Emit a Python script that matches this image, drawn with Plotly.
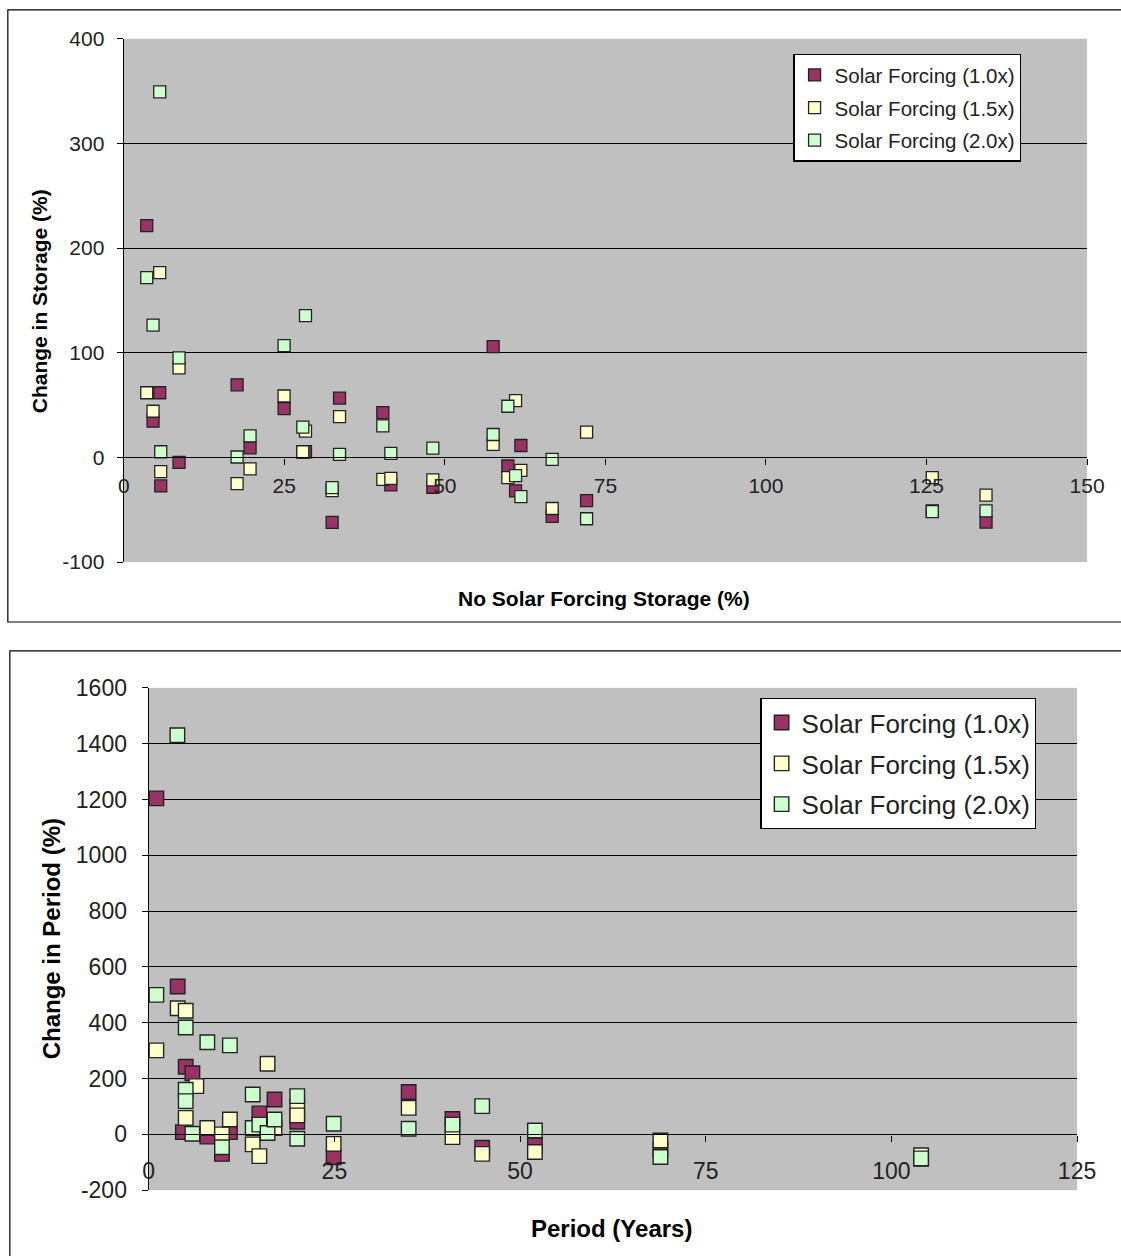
import plotly.graph_objects as go

# ---------------- data: top chart (storage) ----------------
storage_x = [3.58, 4.56, 5.6, 5.76, 8.61, 17.65, 19.67, 24.97, 27.88, 28.30, 32.45, 33.60,
             40.34, 41.59, 48.13, 57.52, 59.81, 61.01, 61.84, 66.71, 72.07, 125.9, 134.27]
storage_sf10 = [221.5, 34.6, 61.8, -27.2, -4.8, 69.4, 9.2, 46.6, 5.0, 5.4, -62.1, 56.7,
                42.8, -26.2, -28.5, 105.9, -8.2, -31.9, 11.4, -56.4, -41.2, -51.0, -61.8]
storage_sf15 = [61.8, 44.1, 176.5, -13.6, 85.6, -25.0, -11.0, 58.7, 5.4, 25.1, -31.7, 39.0,
                -20.9, -20.0, -21.5, 12.4, -19.3, 54.2, -12.4, -48.8, 24.1, -19.3, -36.1]
storage_sf20 = [171.8, 126.4, 349.2, 5.4, 95.1, 0.4, 20.6, 106.8, 28.9, 135.4, -28.8, 2.9,
                30.1, 3.8, 8.9, 21.9, 48.9, -17.4, -37.4, -1.9, -58.6, -51.9, -51.0]

# ---------------- data: bottom chart (period) ----------------
period_x_sf10 = [1.03, 3.9, 4.98, 5.88, 4.6, 7.89, 9.86, 10.93, 14.9, 16.94, 20.0, 24.9,
                 35.0, 40.9, 44.9, 52.0, 68.9, 104.0]
period_sf10 = [1204, 530, 242, 219, 8, -8, -70, 8, 75, 125, 45, -82,
               152, 55, -48, -38, -55, -88]
period_x_sf15 = [1.03, 3.9, 4.98, 6.41, 4.98, 7.89, 9.86, 10.93, 16.0, 14.0, 14.9, 16.94,
                 20.0, 20.0, 24.9, 35.0, 40.9, 44.9, 52.0, 68.9, 104.0]
period_sf15 = [301, 452, 443, 173, 59, 23, 0, 53, 253, -36, -78, 23,
               100, 68, -34, 95, -10, -70, -63, -22, -75]
period_x_sf20 = [1.03, 3.86, 4.98, 4.98, 4.98, 5.88, 7.89, 10.93, 9.86, 14.0, 14.0, 14.9,
                 16.0, 16.94, 20.0, 20.0, 24.9, 35.0, 40.9, 44.9, 52.0, 68.9, 104.0]
period_sf20 = [500, 1430, 383, 160, 119, 2, 330, 319, -46, 143, 23, 35,
               5, 53, 137, -16, 38, 20, 35, 101, 14, -81, -86]

series_names = ["Solar Forcing (1.0x)", "Solar Forcing (1.5x)", "Solar Forcing (2.0x)"]
series_colors = ["#993366", "#FFFFCC", "#CCFFCC"]

top_xticks = [0, 25, 50, 75, 100, 125, 150]
top_xticktext = ["0", "25", "50", "75", "100", "125", "150"]
top_yticks = [-100, 0, 100, 200, 300, 400]
top_yticktext = ["-100", "0", "100", "200", "300", "400"]
bot_xticks = [0, 25, 50, 75, 100, 125]
bot_xticktext = ["0", "25", "50", "75", "100", "125"]
bot_yticks = [-200, 0, 200, 400, 600, 800, 1000, 1200, 1400, 1600]
bot_yticktext = ["-200", "0", "200", "400", "600", "800", "1000", "1200", "1400", "1600"]

W, H = 1121, 1256
FONT = "Liberation Sans, Arial, sans-serif"

# the photographed page is slightly scaled/offset; compensate so targets land right
SX, OX = 0.9784, 6.17
SY, OY = 0.9807, 11.15


def px_x(p):
    return ((p - OX) / SX) / W


def px_y(p):
    return 1 - ((p - OY) / SY) / H


fig = go.Figure()

top_series = [storage_sf10, storage_sf15, storage_sf20]
for i in range(3):
    fig.add_trace(go.Scatter(
        x=storage_x, y=top_series[i], mode="markers", name=series_names[i],
        marker=dict(symbol="square", size=12, color=series_colors[i],
                    line=dict(color="#222222", width=1.3)),
        xaxis="x", yaxis="y", legend="legend", legendgroup="t%d" % i,
    ))

bot_x = [period_x_sf10, period_x_sf15, period_x_sf20]
bot_y = [period_sf10, period_sf15, period_sf20]
for i in range(3):
    fig.add_trace(go.Scatter(
        x=bot_x[i], y=bot_y[i], mode="markers", name=series_names[i],
        marker=dict(symbol="square", size=14.5, color=series_colors[i],
                    line=dict(color="#222222", width=1.4)),
        xaxis="x2", yaxis="y2", legend="legend2", legendgroup="b%d" % i,
    ))

# zero-line positions (target image pixels)
top_y0_px = 37 + (561 - 37) * 400 / 500
bot_y0_px = 687 + (1190 - 687) * 1600 / 1800

axis_common = dict(showline=True, linecolor="black", linewidth=1.3, ticks="outside",
                   tickcolor="black", tickwidth=1.3, ticklen=6)

fig.update_layout(
    autosize=True, margin=dict(l=0, r=0, t=0, b=0),
    paper_bgcolor="white", plot_bgcolor="#C0C0C0",
    font=dict(family=FONT, color="black"),
    showlegend=True,
    xaxis=dict(domain=[px_x(124), px_x(1088)], range=[0, 150], anchor="free",
               position=px_y(top_y0_px), tickvals=top_xticks, ticktext=top_xticktext,
               showgrid=False, zeroline=False, tickfont=dict(size=21, color="#222"),
               ticklabelstandoff=3, **axis_common),
    yaxis=dict(domain=[px_y(561), px_y(37)], range=[-100, 400], anchor="x",
               tickvals=top_yticks, ticktext=top_yticktext, showgrid=True,
               gridcolor="black", gridwidth=1.3, zeroline=False,
               tickfont=dict(size=21, color="#222"), ticklabelstandoff=8, **axis_common),
    xaxis2=dict(domain=[px_x(149), px_x(1078)], range=[0, 125], anchor="free",
                position=px_y(bot_y0_px), tickvals=bot_xticks, ticktext=bot_xticktext,
                showgrid=False, zeroline=False, tickfont=dict(size=23, color="#222"),
                ticklabelstandoff=10, **axis_common),
    yaxis2=dict(domain=[px_y(1190), px_y(687)], range=[-200, 1600], anchor="x2",
                tickvals=bot_yticks, ticktext=bot_yticktext, showgrid=True,
                gridcolor="black", gridwidth=1.3, zeroline=False,
                tickfont=dict(size=23, color="#222"), ticklabelstandoff=10, **axis_common),
    legend=dict(x=px_x(794), y=px_y(52), xanchor="left", yanchor="top",
                bgcolor="white", bordercolor="black", borderwidth=1.3,
                font=dict(size=20.5, color="#222"), tracegroupgap=3,
                itemwidth=30),
    legend2=dict(x=px_x(761), y=px_y(697), xanchor="left", yanchor="top",
                 bgcolor="white", bordercolor="black", borderwidth=1.3,
                 font=dict(size=26, color="#222"), tracegroupgap=4,
                 itemwidth=30),
)

# outer chart borders
fig.add_shape(type="rect", xref="paper", yref="paper",
              x0=px_x(8), x1=px_x(1125), y0=px_y(621), y1=px_y(8),
              line=dict(color="black", width=1.2), fillcolor="rgba(0,0,0,0)", layer="below")
fig.add_shape(type="rect", xref="paper", yref="paper",
              x0=px_x(10), x1=px_x(1125), y0=px_y(1262), y1=px_y(650),
              line=dict(color="black", width=1.2), fillcolor="rgba(0,0,0,0)", layer="below")

# axis titles
title_common = dict(xref="paper", yref="paper", showarrow=False,
                    xanchor="center", yanchor="middle")
fig.add_annotation(text="<b>No Solar Forcing Storage (%)</b>",
                   x=px_x(605), y=px_y(597), font=dict(size=21, color="black"), **title_common)
fig.add_annotation(text="<b>Change in Storage (%)</b>", textangle=-90,
                   x=px_x(40), y=px_y(300), font=dict(size=21, color="black"), **title_common)
fig.add_annotation(text="<b>Period (Years)</b>",
                   x=px_x(612), y=px_y(1228), font=dict(size=24, color="black"), **title_common)
fig.add_annotation(text="<b>Change in Period (%)</b>", textangle=-90,
                   x=px_x(52), y=px_y(938), font=dict(size=24, color="black"), **title_common)

fig.write_html(
    "out.html",
    default_width="100vw",
    default_height="100vh",
    config={"displayModeBar": False, "responsive": True},
    post_script=(
        "document.documentElement.style.margin='0';"
        "document.body.style.margin='0';"
        "document.body.style.overflow='hidden';"
        "document.documentElement.style.overflow='hidden';"
        "var gd=document.getElementById('{plot_id}');"
        "Plotly.Plots.resize(gd);"
    ),
)
